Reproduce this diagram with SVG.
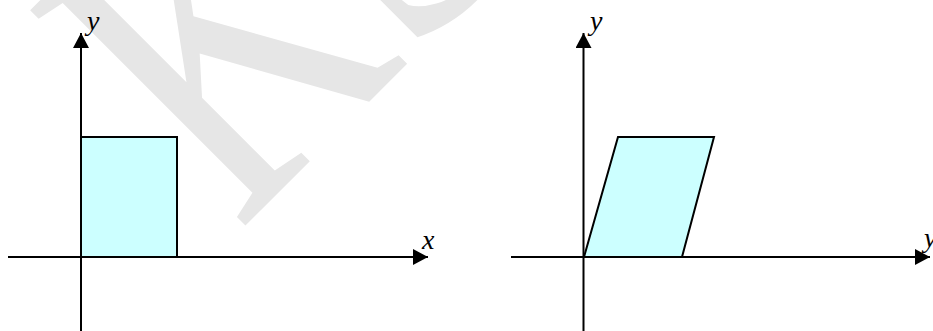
<svg xmlns="http://www.w3.org/2000/svg" width="933" height="331" viewBox="0 0 933 331">
<style>
.ax{stroke:#000;stroke-width:2;fill:none}
.shape{fill:#ccffff;stroke:#000;stroke-width:2;stroke-linejoin:miter}
.lbl{font-family:"Liberation Serif","Times New Roman",serif;font-style:italic;font-size:28px;fill:#000}
.wm{font-family:"Liberation Serif","Times New Roman",serif;font-size:465px;fill:#e6e6e6}
</style>
<defs>
<marker id="arr" markerUnits="userSpaceOnUse" markerWidth="16" markerHeight="16" refX="15" refY="8" orient="auto" viewBox="0 0 16 16">
<path d="M0,0 L15,8 L0,16 z" fill="#000"/>
</marker>
</defs>
<rect width="933" height="331" fill="#fff"/>
<g id="watermark">
<text class="wm" transform="translate(238.6,232.4) rotate(-45) scale(0.72,1)">KS</text>
</g>
<g id="square">
<rect class="shape" x="81" y="137" width="96" height="120"/>
</g>
<g id="parallelogram">
<polygon class="shape" points="584,257 682,257 714,137 618,137"/>
</g>
<g id="connectors">
<line class="ax" x1="8" y1="257" x2="428" y2="257" marker-end="url(#arr)"/>
<line class="ax" x1="81" y1="331" x2="81" y2="33" marker-end="url(#arr)"/>
<line class="ax" x1="511" y1="257" x2="930" y2="257" marker-end="url(#arr)"/>
<line class="ax" x1="583.5" y1="331" x2="583.5" y2="33" marker-end="url(#arr)"/>
</g>
<g id="labels">
<text class="lbl" x="87" y="30">y</text>
<text class="lbl" x="422" y="249">x</text>
<text class="lbl" x="590" y="30">y</text>
<text class="lbl" x="924" y="247">y</text>
</g>
</svg>
